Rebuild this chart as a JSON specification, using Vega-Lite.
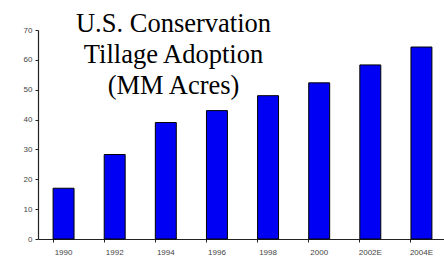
{
  "$schema": "https://vega.github.io/schema/vega-lite/v6.json",
  "autosize": {"type": "none"},
  "width": 409,
  "height": 209,
  "padding": {"left": 38, "top": 30, "right": 0, "bottom": 36},
  "background": "white",
  "title": {
    "text": ["U.S. Conservation", "Tillage Adoption", "(MM Acres)"],
    "font": "Liberation Serif",
    "fontSize": 26.5,
    "fontWeight": "normal",
    "color": "#000000",
    "lineHeight": 31,
    "anchor": "middle",
    "frame": "group",
    "orient": "top",
    "dx": -69,
    "offset": -73
  },
  "data": {
    "values": [
      {"year": "1990", "acres": 17},
      {"year": "1992", "acres": 28.3},
      {"year": "1994", "acres": 39},
      {"year": "1996", "acres": 43},
      {"year": "1998", "acres": 48},
      {"year": "2000", "acres": 52.3},
      {"year": "2002E", "acres": 58.3},
      {"year": "2004E", "acres": 64.3}
    ]
  },
  "mark": {"type": "bar", "color": "#0000f5", "stroke": "#000000", "strokeWidth": 1},
  "encoding": {
    "x": {
      "field": "year",
      "type": "ordinal",
      "sort": null,
      "scale": {"paddingInner": 0.59, "paddingOuter": 0.295},
      "axis": {
        "title": null,
        "labelAngle": 0,
        "labelFont": "Liberation Sans",
        "labelFontSize": 8,
        "labelColor": "#444444",
        "labelPadding": 6,
        "bandPosition": 0,
        "tickColor": "#222222",
        "tickSize": 3,
        "domainColor": "#222222",
        "domainWidth": 1.2
      }
    },
    "y": {
      "field": "acres",
      "type": "quantitative",
      "scale": {"domain": [0, 70]},
      "axis": {
        "title": null,
        "values": [0, 10, 20, 30, 40, 50, 60, 70],
        "grid": false,
        "labelFont": "Liberation Sans",
        "labelFontSize": 8,
        "labelColor": "#444444",
        "labelPadding": 3,
        "tickColor": "#222222",
        "tickSize": 3,
        "domainColor": "#222222",
        "domainWidth": 1.2
      }
    }
  },
  "config": {"view": {"stroke": null}}
}
